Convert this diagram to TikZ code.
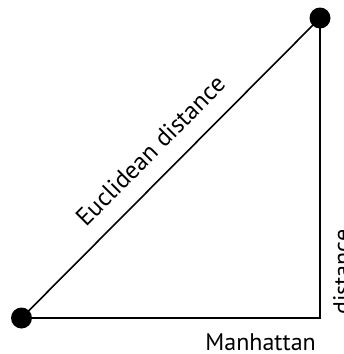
\documentclass[tikz,border=0pt]{standalone}
\usepackage{fontspec}
\setmainfont{PT Sans}
\usetikzlibrary{positioning, calc}

\begin{document}
\begin{tikzpicture}[
        x=1pt, y=-1pt,
        font=\fontsize{24}{28}\selectfont,
        % Estilo para los puntos
        dot/.style={
            circle,
            fill=black,
            inner sep=0pt,
            minimum size=21pt
        },
        % Estilo para las lineas
        edge/.style={line width=1.6pt, black},
        % Estilo para las etiquetas
        tag/.style={text=black, inner sep=2pt}
    ]

        % Margenes de la imagen
        \useasboundingbox (0,0) rectangle (344,354);

        % 1. Puntos
        \node[dot] (p) at (21.5,318) {};
        \node[dot] (q) at (320,18) {};
        \coordinate (corner) at (320,318);

        % 2. Recorrido Manhattan
        \draw[edge] (p.center) -- (corner) -- (q.center);

        % 3. Distancia euclidiana
        \draw[edge] (p.center) -- node[tag, sloped, above=15pt, pos=0.495, font=\fontsize{25}{28}\selectfont] (eu) {Euclidean distance} (q.center);

        % Etiquetas Manhattan (la segunda queda cortada en el borde)
        \node[tag, anchor=base east] (man) at ($(corner)+(-2,32)$) {Manhattan};
        \node[tag, rotate=90, anchor=base west] (dist) at ($(corner)+(30,-1)$) {distance};

    \end{tikzpicture}
\end{document}
